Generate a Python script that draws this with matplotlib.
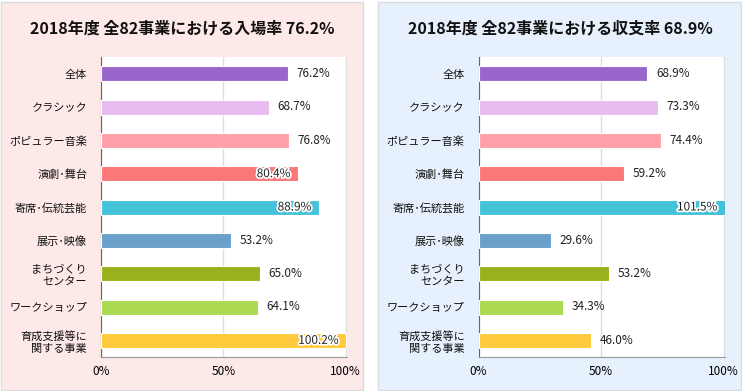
import matplotlib
matplotlib.use("Agg")
import matplotlib.pyplot as plt
import matplotlib.patheffects as pe
from matplotlib.patches import Rectangle

plt.rcParams['font.family'] = ['Noto Sans CJK JP', 'DejaVu Sans']

categories = ["全体", "クラシック", "ポピュラー音楽", "演劇･舞台", "寄席･伝統芸能",
              "展示･映像", "まちづくり\nセンター", "ワークショップ", "育成支援等に\n関する事業"]
attendance = [76.2, 68.7, 76.8, 80.4, 88.9, 53.2, 65.0, 64.1, 100.2]
balance = [68.9, 73.3, 74.4, 59.2, 101.5, 29.6, 53.2, 34.3, 46.0]
colors = ["#9966cc", "#e8bcf0", "#ffa0a8", "#fc7777", "#45c1d8",
          "#6aa0c9", "#99b11c", "#abd952", "#ffca3c"]
titles = ["2018年度 全82事業における入場率 76.2%",
          "2018年度 全82事業における収支率 68.9%"]
xticks = [0, 50, 100]
xticklabels = ["0%", "50%", "100%"]

fig = plt.figure(figsize=(7.42, 3.91), dpi=100)
W, H = 742, 391

# panel backgrounds
for (x0, x1, fc) in [(1, 363, "#fde9e7"), (378, 741, "#e6f1fd")]:
    fig.patches.append(Rectangle((x0 / W, 1 / H), (x1 - x0) / W, 388 / H,
                                 transform=fig.transFigure, facecolor=fc,
                                 edgecolor="#dcdcdc", linewidth=1, zorder=-10))

panels = [(101, 347, 182, attendance), (478.5, 725, 560, balance)]
for (ax0, ax1, tx, vals), title in zip(panels, titles):
    ax = fig.add_axes([ax0 / W, (391 - 357) / H, (ax1 - ax0) / W, 300 / H])
    ax.set_facecolor("white")
    y = list(range(len(categories)))
    ax.barh(y, vals, height=0.45, color=colors, edgecolor="white", linewidth=0.8, zorder=3)
    ax.set_xlim(0, 100.5)
    ax.set_ylim(len(categories) - 0.5, -0.5)
    ax.set_yticks(y)
    ax.set_yticklabels(categories, fontsize=8, linespacing=1.3, color="#111111")
    ax.set_xticks(xticks)
    ax.set_xticklabels(xticklabels, fontsize=8.5)
    ax.tick_params(length=0, pad=6)
    ax.tick_params(axis="y", pad=10)
    ax.grid(axis="x", color="#dddddd", linewidth=1, zorder=0)
    for s in ["top", "right"]:
        ax.spines[s].set_visible(False)
    ax.spines["left"].set_color("#666666")
    ax.spines["bottom"].set_color("#999999")
    for yi, v in zip(y, vals):
        if v >= 80:
            ax.text(min(v, 100.5) - 3, yi, f"{v:.1f}%", ha="right", va="center",
                    fontsize=8.5, color="#222222", zorder=5,
                    path_effects=[pe.withStroke(linewidth=2.5, foreground="white")])
        else:
            ax.text(v + 3.5, yi, f"{v:.1f}%", ha="left", va="center",
                    fontsize=8.5, color="#222222", zorder=5)
    fig.text(tx / W, 1 - 28 / H, title, ha="center", va="center",
             fontsize=11.5, fontweight="bold", color="#111111")

fig.savefig("out.png", dpi=100)
